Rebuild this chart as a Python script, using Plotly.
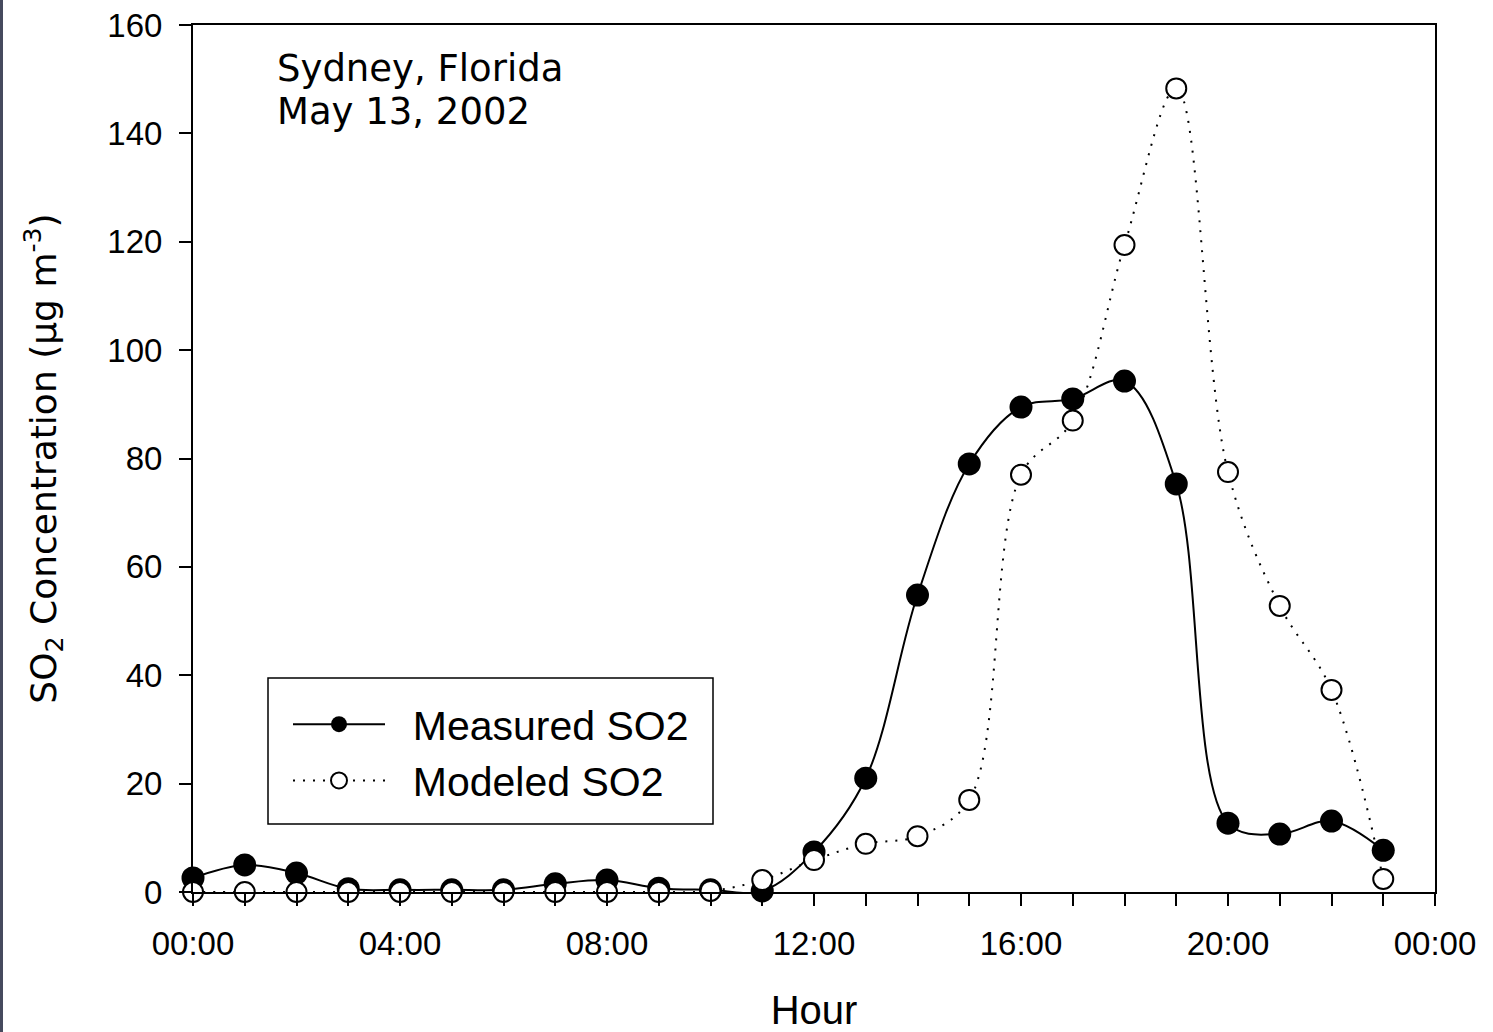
import plotly.graph_objects as go

hours = list(range(24))
measured = [2.6, 5.0, 3.5, 0.6, 0.4, 0.4, 0.4, 1.5, 2.2, 0.7, 0.4, 0.2,
            7.4, 21.0, 54.8, 79.0, 89.5, 91.0, 94.3, 75.3, 12.7, 10.7, 13.1, 7.7]
modeled = [0.0, 0.0, 0.0, 0.0, 0.0, 0.0, 0.0, 0.0, 0.0, 0.0, 0.2, 2.2,
           5.9, 8.9, 10.3, 17.0, 77.0, 87.0, 119.4, 148.3, 77.5, 52.8, 37.3, 2.4]
x_tickvals = [0, 4, 8, 12, 16, 20, 24]
x_ticktext = ["00:00", "04:00", "08:00", "12:00", "16:00", "20:00", "00:00"]
y_tickvals = [0, 20, 40, 60, 80, 100, 120, 140, 160]

FONT = "Liberation Sans, Arial, sans-serif"
WIDE = "DejaVu Sans, Liberation Sans, sans-serif"
NB = "\u00a0\u00a0"

fig = go.Figure()
fig.add_trace(go.Scatter(
    x=hours, y=measured, name=NB + "Measured SO2", mode="lines+markers",
    line=dict(color="black", width=2, shape="spline", smoothing=1.0),
    marker=dict(symbol="circle", size=23, color="black", line=dict(width=0)),
    cliponaxis=False,
))
fig.add_trace(go.Scatter(
    x=hours, y=modeled, name=NB + "Modeled SO2", mode="lines+markers",
    line=dict(color="black", width=2, dash="2px,8px", shape="spline", smoothing=1.0),
    marker=dict(symbol="circle", size=20, color="white", line=dict(width=2, color="black")),
    cliponaxis=False,
))

# plot area pixel geometry
L, R, T, B = 193, 1435, 25, 892
W, H = R - L, B - T
def px(x):
    return (x - L) / W
def py(y):
    return (B - y) / H

fig.update_layout(
    width=1493, height=1032,
    margin=dict(l=L, r=1493 - R, t=T, b=1032 - B, autoexpand=False),
    paper_bgcolor="white", plot_bgcolor="white",
    font=dict(family=FONT, color="black", size=33),
    showlegend=True,
    legend=dict(
        x=px(288), y=py(691), xanchor="left", yanchor="top",
        bgcolor="rgba(0,0,0,0)", borderwidth=0,
        font=dict(size=41, family=FONT), itemwidth=92,
        tracegroupgap=0,
    ),
    xaxis=dict(
        range=[0, 24], tickmode="array", tickvals=x_tickvals, ticktext=x_ticktext,
        showgrid=False, zeroline=False, showline=True, linecolor="black", linewidth=2,
        mirror=True, ticks="outside", ticklen=12, tickwidth=2, tickcolor="black",
        tickfont=dict(size=33), ticklabelstandoff=9, automargin=False,
        minor=dict(ticks="outside", dtick=1, tick0=0, ticklen=12, tickwidth=2, tickcolor="black", showgrid=False),
        title=dict(text="Hour", font=dict(size=40), standoff=46),
    ),
    yaxis=dict(
        range=[0, 160], tickmode="array", tickvals=y_tickvals,
        showgrid=False, zeroline=False, showline=True, linecolor="black", linewidth=2,
        mirror=True, ticks="outside", ticklen=12, tickwidth=2, tickcolor="black",
        tickfont=dict(size=33), ticklabelstandoff=10, automargin=False,
        title=dict(text="SO<sub>2</sub> Concentration (µg m<sup>-3</sup>)",
                   font=dict(size=36, family=WIDE), standoff=40),
    ),
    shapes=[
        dict(type="rect", xref="paper", yref="paper", x0=px(268), x1=px(713), y0=py(824), y1=py(678),
             line=dict(color="black", width=1.5), fillcolor="rgba(0,0,0,0)", layer="above"),
        dict(type="rect", xref="paper", yref="paper", x0=px(0), x1=px(3), y0=py(1032), y1=py(0),
             line=dict(width=0), fillcolor="#464a5e", layer="above"),
    ],
    annotations=[
        dict(text="Sydney, Florida", xref="paper", yref="paper", x=px(275), y=py(69),
             xanchor="left", yanchor="middle", showarrow=False,
             font=dict(size=37, family=WIDE)),
        dict(text="May 13, 2002", xref="paper", yref="paper", x=px(275), y=py(112),
             xanchor="left", yanchor="middle", showarrow=False,
             font=dict(size=37, family=WIDE)),
    ],
)

fig.write_html("out.html")
